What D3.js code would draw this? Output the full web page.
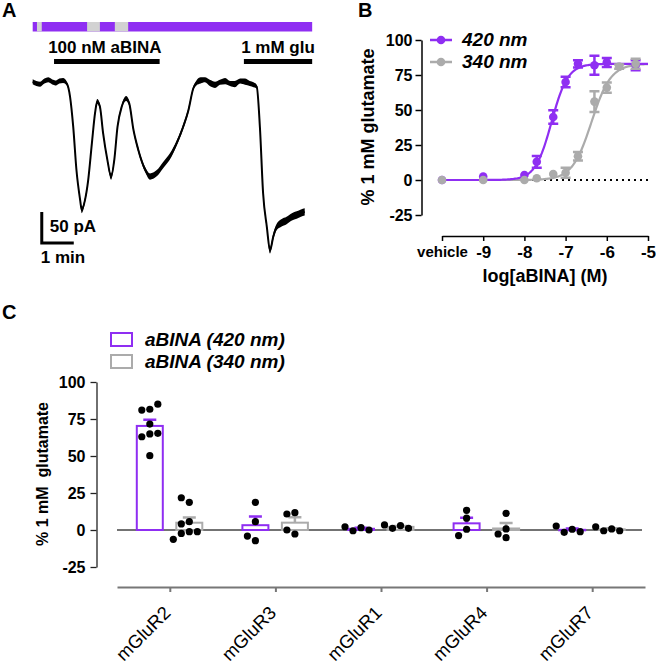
<!DOCTYPE html>
<html><head><meta charset="utf-8">
<script src="https://cdn.jsdelivr.net/npm/d3@7"></script>
<style>
html,body{margin:0;padding:0;background:#fff;}
svg{display:block;font-family:"Liberation Sans",Arial,sans-serif;}
</style></head>
<body>
<svg id="chart" width="656" height="669"></svg>
<script>
// ---------- DATA ----------
// Panel A: whole-cell current trace (time in s, current in pA) and noise half-width (pA)
const traceTime = [0,7,14,22,29,36,44,50,57,64,70,76,82,89,92,98,104,111,117,121,126,132,140,147,153,159,167,175,181,189,198,211,220,232,245,257,270,282,292,301,307,315,323,332,342,351,361,370,379,389,398,407,414,420,426,432,439,445,451,457,466,476,486,495,503,510];
const traceCurrent = [0,-3,-4,1,3,0,-2,1,2,-3,-24,-73,-142,-191,-207,-191,-159,-99,-50,-32,-40,-83,-126,-153,-126,-73,-40,-27,-35,-78,-110,-142,-153,-148,-134,-121,-99,-73,-46,-11,-2,2,3,-2,-5,-1,1,-3,-4,1,0,-3,-5,-8,-73,-180,-234,-272,-250,-235,-228,-224,-218,-215,-212,-210];
const traceNoise = [4,4,4,4,4,4,4,4,4,3,2,2,2,3,5,4,3,2,3,4,4,3,3,5,4,3,3,4,4,3,4,4,5,5,5,5,4,4,4,3,4,5,4,5,5,4,5,4,5,4,5,4,4,3,2,2,3,5,5,5,6,6,6,6,6,6];
const lightTotal = [0, 524];                       // illumination period (s)
const light340 = [[8,17],[102,126],[154,179]];      // 340 nm periods (s), rest 420 nm
const drugNames = ["100 nM aBINA", "1 mM glu"];
const drugPeriods = [[40,238],[396,524]];
const scaleBarT = [17, 77];      // 1 min
const scaleBarI = [-210, -260];  // 50 pA

// Panel B: concentration-response (log M; vehicle plotted at -10)
const bTicks = [-10,-9,-8,-7,-6,-5];
const bTickLabels = ["vehicle","-9","-8","-7","-6","-5"];
const bYTicks = [-25,0,25,50,75,100];
const conc420 = [-10,-9,-8,-7.7,-7.3,-7,-6.7,-6.3,-6,-5.3];
const resp420 = [0,2.4,3.6,13,45,70,83,82,84,82];
const sem420  = [0,0,0,4.2,4.8,3.8,2.6,6.8,3.2,3.6];
const conc340 = [-10,-9,-8,-7.7,-7.3,-7,-6.7,-6.3,-6,-5.7,-5.3];
const resp340 = [0,0,0,1.2,4.3,5.2,17,56,66,81,83];
const sem340  = [0,0,0,0,0,3.6,3,7.4,3.6,1.5,3.6];
const seriesNamesB = ["420 nm","340 nm"];
const fitTop = [83, 83];
const fitLogEC50 = [-7.34, -6.37];
const fitHill = [2.2, 1.85];

// Panel C: individual cells, % of 1 mM glutamate
const receptors = ["mGluR2","mGluR3","mGluR1","mGluR4","mGluR7"];
const cells420 = [[81.6,81,85,71.6,64.9,63,65.3,50.2],[18.7,5.6,-7.2,-4.1],[1.6,-0.5,0,2.2],[13.3,8,0.5,-3.8],[0.5,-1.6,-1.1,2.7]];
const cells340 = [[18.7,21.8,5.6,4.1,-1.1,-2.3,-1.1,-6.3],[11.7,10.8,-2.7,0],[2.9,1.1,1.1,3.4],[11.3,0.7,-2.7,-5.2],[0.7,-0.5,-0.5,2.2]];
const seriesNamesC = ["aBINA (420 nm)","aBINA (340 nm)"];
const cYTicks = [-25,0,25,50,75,100];

// ---------- STYLE ----------
const PURPLE = "#8f2ef2";
const GRAY = "#ababab";
const LIGHTGRAY = "#d2d2d2";
const FONT = "Liberation Sans, Arial, sans-serif";

const svg = d3.select("#chart");

// ---------- PANEL A ----------
const xA = d3.scaleLinear().domain([0,60]).range([32.7,64.7]);
const yA = d3.scaleLinear().domain([0,-50]).range([81.7,112.7]);
svg.append("text").attr("x",2).attr("y",17).attr("font-size",20).attr("font-weight","bold").text("A");
const gA = svg.append("g");
gA.append("rect").attr("x",xA(lightTotal[0])).attr("y",22).attr("width",xA(lightTotal[1])-xA(lightTotal[0])).attr("height",9.5).attr("fill",PURPLE);
gA.selectAll("rect.g340").data(light340).join("rect").attr("class","g340")
  .attr("x",d=>xA(d[0])).attr("y",22).attr("width",d=>xA(d[1])-xA(d[0])).attr("height",9.5).attr("fill",LIGHTGRAY);
gA.selectAll("rect.drug").data(drugPeriods).join("rect").attr("class","drug")
  .attr("x",d=>xA(d[0])).attr("y",59).attr("width",d=>xA(d[1])-xA(d[0])).attr("height",5).attr("fill","#000");
gA.selectAll("text.drug").data(drugPeriods).join("text").attr("class","drug")
  .attr("x",(d,i)=> (xA(d[0])+xA(d[1]))/2 - (i===0?2:0)).attr("y",53).attr("text-anchor","middle")
  .attr("font-size",17).attr("font-weight","bold").text((d,i)=>drugNames[i]);
const traceData = traceTime.map((t,i)=>[t,traceCurrent[i],traceNoise[i]]);
const traceArea = d3.area().x(d=>xA(d[0])).y0(d=>yA(d[1]-d[2])).y1(d=>yA(d[1]+d[2])).curve(d3.curveMonotoneX);
const traceLine = d3.line().x(d=>xA(d[0])).y(d=>yA(d[1])).curve(d3.curveMonotoneX);
gA.append("path").datum(traceData).attr("d",traceArea).attr("fill","#000");
gA.append("path").datum(traceData).attr("d",traceLine).attr("fill","none").attr("stroke","#000").attr("stroke-width",2).attr("stroke-linejoin","round");
gA.append("path").attr("d",`M${xA(scaleBarT[0])},${yA(scaleBarI[0])}V${yA(scaleBarI[1])}H${xA(scaleBarT[1])}`)
  .attr("fill","none").attr("stroke","#000").attr("stroke-width",3);
gA.append("text").attr("x",xA(scaleBarT[0])+8).attr("y",232).attr("font-size",17).attr("font-weight","bold").text("50 pA");
gA.append("text").attr("x",xA(scaleBarT[0])-1).attr("y",263).attr("font-size",17).attr("font-weight","bold").text("1 min");

// ---------- PANEL B ----------
svg.append("text").attr("x",358).attr("y",17).attr("font-size",20).attr("font-weight","bold").text("B");
const xB = d3.scaleLinear().domain([-10,-5]).range([442,648]);
const yB = d3.scaleLinear().domain([-25,100]).range([215,40]);
const gB = svg.append("g");
const yAxB = gB.append("g").attr("transform","translate(421.5,0)")
  .call(d3.axisLeft(yB).tickValues(bYTicks).tickSize(6).tickSizeOuter(0).tickPadding(3).tickFormat(d=>String(d)));
yAxB.selectAll("text").attr("font-size",16).attr("font-weight","bold").attr("font-family",FONT).attr("fill","#000");
yAxB.selectAll("line,path").attr("stroke","#000").attr("stroke-width",1.5);
const xAxB = gB.append("g").attr("transform","translate(0,236)")
  .call(d3.axisBottom(xB).tickValues(bTicks).tickSize(5).tickSizeOuter(0).tickPadding(5).tickFormat((d,i)=>bTickLabels[i]));
xAxB.selectAll("text").attr("font-size",(d,i)=>i===0?15:17).attr("font-weight","bold").attr("font-family",FONT).attr("fill","#000");
xAxB.selectAll("line,path").attr("stroke","#000").attr("stroke-width",1.5);
gB.append("text").attr("x",545).attr("y",282).attr("text-anchor","middle").attr("font-size",18).attr("font-weight","bold").text("log[aBINA] (M)");
gB.append("text").attr("transform","translate(374,127) rotate(-90)").attr("text-anchor","middle").attr("font-size",18).attr("font-weight","bold").text("% 1 mM glutamate");
gB.append("line").attr("x1",xB(-10)).attr("x2",xB(-5)).attr("y1",yB(0)).attr("y2",yB(0))
  .attr("stroke","#000").attr("stroke-width",2).attr("stroke-dasharray","2,4");
const fitX = d3.range(0,201).map(i=>-10 + i*5/200);
[1,0].forEach(k=>{
  const col = k===0?PURPLE:GRAY;
  const line = d3.line().x(d=>xB(d)).y(d=>yB(fitTop[k]/(1+Math.pow(10,(fitLogEC50[k]-d)*fitHill[k]))));
  gB.append("path").datum(fitX).attr("d",line).attr("fill","none").attr("stroke",col).attr("stroke-width",2.2);
});
function drawB(conc,resp,sem,col){
  const g = gB.append("g");
  conc.forEach((c,i)=>{
    if(sem[i]>0){
      const x=xB(c), y1=yB(resp[i]+sem[i]), y2=yB(resp[i]-sem[i]);
      g.append("path").attr("d",`M${x},${y1}V${y2}M${x-5},${y1}H${x+5}M${x-5},${y2}H${x+5}`)
        .attr("stroke",col).attr("stroke-width",2.5).attr("fill","none");
    }
  });
  g.selectAll("circle").data(conc).join("circle").attr("cx",d=>xB(d)).attr("cy",(d,i)=>yB(resp[i])).attr("r",4.3).attr("fill",col);
}
drawB(conc420,resp420,sem420,PURPLE);
drawB(conc340,resp340,sem340,GRAY);
seriesNamesB.forEach((n,i)=>{
  const y = 40 + i*22, col = i===0?PURPLE:GRAY;
  gB.append("line").attr("x1",430).attr("x2",452).attr("y1",y).attr("y2",y).attr("stroke",col).attr("stroke-width",2.5);
  gB.append("circle").attr("cx",441).attr("cy",y).attr("r",4.3).attr("fill",col);
  gB.append("text").attr("x",462).attr("y",y+6).attr("font-size",19).attr("font-weight","bold").attr("font-style","italic").text(n);
});

// ---------- PANEL C ----------
svg.append("text").attr("x",2).attr("y",319).attr("font-size",20).attr("font-weight","bold").text("C");
const xC = d3.scalePoint().domain(receptors).range([117,645]).padding(0.5);
const yC = d3.scaleLinear().domain([-25,100]).range([567,382]);
const gC = svg.append("g");
const yAxC = gC.append("g").attr("transform","translate(96.5,0)")
  .call(d3.axisLeft(yC).tickValues(cYTicks).tickSize(6).tickSizeOuter(0).tickPadding(5).tickFormat(d=>String(d)));
yAxC.selectAll("text").attr("font-size",16).attr("font-weight","bold").attr("font-family",FONT).attr("fill","#000");
yAxC.selectAll("line,path").attr("stroke","#222").attr("stroke-width",1.3);
const xAxC = gC.append("g").attr("transform","translate(0,587)")
  .call(d3.axisBottom(xC).tickSize(5).tickSizeOuter(0).tickFormat(""));
xAxC.selectAll("line,path").attr("stroke","#777").attr("stroke-width",2);
gC.selectAll("text.xlab").data(receptors).join("text").attr("class","xlab")
  .attr("transform",d=>`translate(${xC(d)+2},614) rotate(-45)`)
  .attr("text-anchor","end").attr("font-size",18.5).attr("font-family",FONT).attr("fill","#000").text(d=>d);
gC.append("text").attr("transform","translate(48,474) rotate(-90)").attr("text-anchor","middle").attr("font-size",16).attr("font-weight","bold")
  .style("white-space","pre").text("% 1 mM  glutamate");
gC.append("line").attr("x1",117).attr("x2",642).attr("y1",yC(0)).attr("y2",yC(0)).attr("stroke","#444").attr("stroke-width",1.3);
const barW = 26, off = [-20, 19.5];
function dodge(vals, cx){
  const placed=[]; const r=3.6, d=8;
  return vals.map(v=>{
    const y=yC(v); let chosen=cx;
    for(const k of [0,-1,1,-2,2,-3,3]){
      const x=cx+k*d;
      if(placed.every(p=>Math.hypot(p[0]-x,p[1]-y)>=2*r+0.5)){chosen=x;break;}
    }
    placed.push([chosen,y]); return [chosen,y];
  });
}
[cells420,cells340].forEach((cells,k)=>{
  const col = k===0?PURPLE:GRAY;
  receptors.forEach((r,i)=>{
    const vals = cells[i];
    const m = d3.mean(vals), sem = d3.deviation(vals)/Math.sqrt(vals.length);
    const cx = xC(r)+off[k];
    const top = yC(Math.max(m,0)), bot = yC(Math.min(m,0));
    gC.append("path").attr("d",`M${cx},${yC(m)}V${yC(m+sem)}M${cx-6.5},${yC(m+sem)}H${cx+6.5}`)
      .attr("stroke",col).attr("stroke-width",2.5).attr("fill","none");
    gC.append("rect").attr("x",cx-barW/2).attr("y",top).attr("width",barW).attr("height",Math.max(bot-top,0.5))
      .attr("fill","none").attr("stroke",col).attr("stroke-width",2);
    gC.selectAll(null).data(dodge(vals,cx)).join("circle").attr("cx",d=>d[0]).attr("cy",d=>d[1]).attr("r",3.6).attr("fill","#000");
  });
});
seriesNamesC.forEach((n,i)=>{
  const y = 333 + i*22, col = i===0?PURPLE:GRAY;
  gC.append("rect").attr("x",111).attr("y",y).attr("width",21).attr("height",13).attr("fill","#fff").attr("stroke",col).attr("stroke-width",2);
  gC.append("text").attr("x",145).attr("y",y+12.5).attr("font-size",19).attr("font-weight","bold").attr("font-style","italic").text(n);
});
</script>
</body></html>
